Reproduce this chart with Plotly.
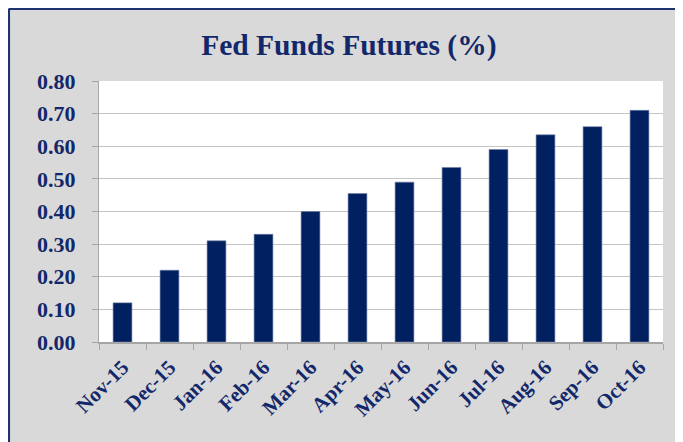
import plotly.graph_objects as go

months = ["Nov-15", "Dec-15", "Jan-16", "Feb-16", "Mar-16", "Apr-16",
          "May-16", "Jun-16", "Jul-16", "Aug-16", "Sep-16", "Oct-16"]
futures = [0.12, 0.22, 0.31, 0.33, 0.40, 0.455,
           0.49, 0.535, 0.59, 0.635, 0.66, 0.71]
y_ticks = [0.0, 0.1, 0.2, 0.3, 0.4, 0.5, 0.6, 0.7, 0.8]

NAVY = "#002060"
TEXT = "#13286a"
FONT = "Liberation Serif"

fig = go.Figure()
fig.add_trace(go.Bar(
    x=months,
    y=futures,
    marker=dict(color=NAVY, line=dict(color="#6f7fa6", width=0.6)),
))

# the page body adds 8px offset; the figure runs past the window on the
# right/bottom so the grey fills to the edge
fig.update_layout(
    width=683, height=442,
    margin=dict(l=91, r=28, t=73, b=108, autoexpand=False),
    paper_bgcolor="#d9d9d9",
    plot_bgcolor="white",
    bargap=0.6,
    showlegend=False,
    title=dict(text="<b>Fed Funds Futures (%)</b>", x=0.499, xanchor="center",
               y=1 - 37 / 442, yanchor="middle",
               font=dict(family=FONT, size=29.5, color=TEXT)),
    font=dict(family=FONT, color=TEXT),
)

fig.update_yaxes(
    range=[0, 0.8], tickvals=y_ticks,
    ticktext=[f"<b>{v:.2f}</b>" for v in y_ticks],
    tickfont=dict(family=FONT, size=22, color=TEXT),
    showgrid=True, gridcolor="#c4c4c4", gridwidth=1,
    showline=True, linecolor="#a6a6a6", linewidth=1,
    ticks="outside", ticklen=6, tickcolor="#a6a6a6",
    ticklabelstandoff=12, zeroline=False,
)
fig.update_xaxes(
    tickvals=months, ticktext=[f"<b>{m}</b>" for m in months],
    tickangle=-45,
    tickfont=dict(family=FONT, size=21, color=TEXT),
    showline=True, linecolor="#a6a6a6", linewidth=1.5,
    ticks="outside", ticklen=6, tickcolor="#a6a6a6",
    tickson="boundaries", ticklabelstandoff=3,
)

# navy frame along the top and left edges
fx = (0.8 - 91) / 564
fy = (334 - 0.8) / 261
fig.update_layout(shapes=[
    dict(type="line", xref="paper", yref="paper", x0=fx, x1=1.2,
         y0=fy, y1=fy, line=dict(color="#1f3370", width=2.5)),
    dict(type="line", xref="paper", yref="paper", x0=fx, x1=fx,
         y0=-0.5, y1=fy, line=dict(color="#1f3370", width=2.5)),
])

fig.write_html("out.html")
